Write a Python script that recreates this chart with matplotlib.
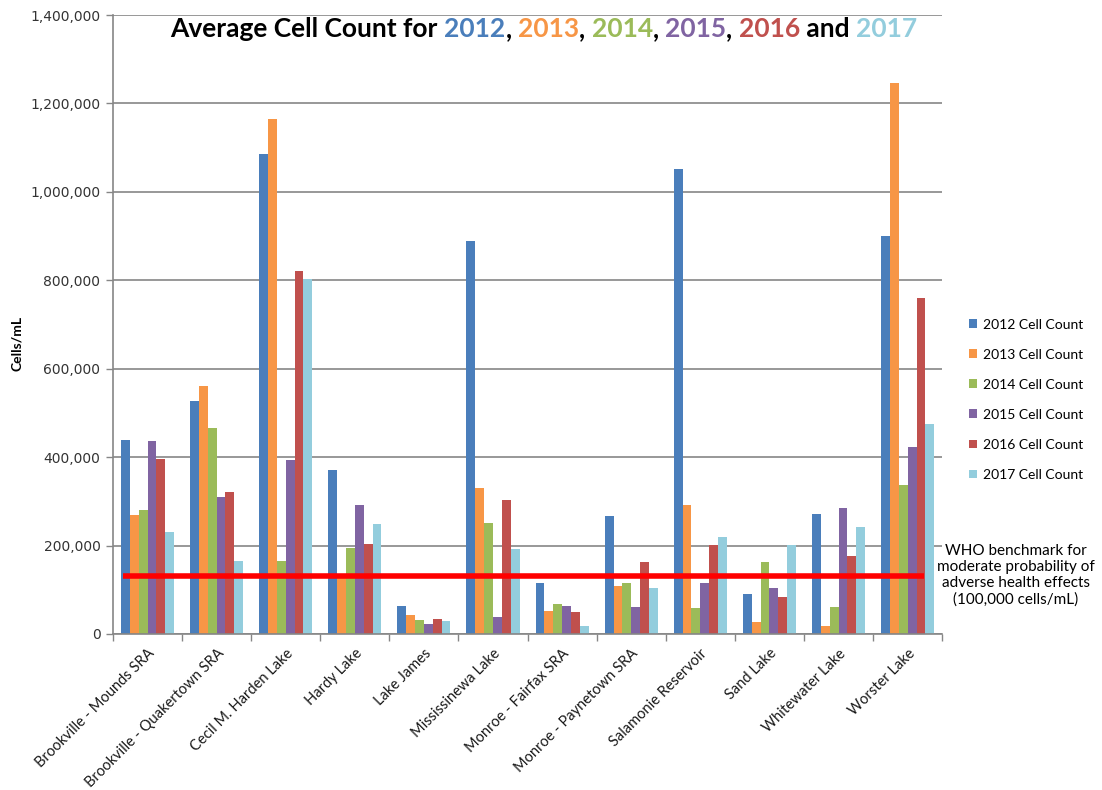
import numpy as np
import matplotlib
matplotlib.use('Agg')
import matplotlib.pyplot as plt
from matplotlib.ticker import FuncFormatter

lakes = ['Brookville - Mounds SRA', 'Brookville - Quakertown SRA', 'Cecil M. Harden Lake',
         'Hardy Lake', 'Lake James', 'Mississinewa Lake', 'Monroe - Fairfax SRA',
         'Monroe - Paynetown SRA', 'Salamonie Reservoir', 'Sand Lake', 'Whitewater Lake',
         'Worster Lake']

years = ['2012', '2013', '2014', '2015', '2016', '2017']
colors = ['#4A7EBB', '#F79646', '#9BBB59', '#8064A2', '#C0504D', '#93CDDD']

c2012 = [439000, 527000, 1085000, 370000, 64000, 889000, 116000, 266000, 1051000, 90000, 272000, 900000]
c2013 = [269000, 562000, 1165000, 128000, 42000, 330000, 51000, 109000, 292000, 26000, 19000, 1247000]
c2014 = [281000, 466000, 166000, 194000, 32000, 252000, 68000, 116000, 58000, 162000, 60000, 338000]
c2015 = [436000, 310000, 393000, 292000, 22000, 38000, 64000, 60000, 116000, 105000, 285000, 422000]
c2016 = [396000, 321000, 821000, 203000, 35000, 303000, 49000, 162000, 201000, 83000, 177000, 760000]
c2017 = [230000, 166000, 804000, 249000, 29000, 192000, 19000, 105000, 219000, 202000, 243000, 474000]
series = [c2012, c2013, c2014, c2015, c2016, c2017]

who_level = 130000
who_text = 'WHO benchmark for\nmoderate probability of\nadverse health effects\n(100,000 cells/mL)'

txt_font = 'Lato'
axis_gray = '#868686'

fig = plt.figure(figsize=(11.02, 7.90), dpi=100)
ax = fig.add_axes([0.1025, 0.1975, 0.7525, 0.7835])

x = np.arange(len(lakes))
w = 0.128
for i, (yr, vals) in enumerate(zip(years, series)):
    ax.bar(x - 2.5 * w + i * w, vals, width=w, color=colors[i],
           label=yr + ' Cell Count', zorder=2)

# WHO benchmark line
ax.plot([-0.36, len(lakes) - 1 + 0.24], [who_level, who_level], color='#FF0000',
        lw=4, solid_capstyle='butt', zorder=3)

ax.set_xlim(-0.5, len(lakes) - 0.5)
ax.set_ylim(0, 1400000)
ax.set_yticks(np.arange(0, 1400001, 200000))
ax.yaxis.set_major_formatter(FuncFormatter(lambda v, p: '{:,.0f}'.format(v)))
ax.grid(axis='y', color=axis_gray, lw=1.2, zorder=0)
ax.set_axisbelow(True)

ax.set_xticks(x)
ax.set_xticklabels(lakes, rotation=45, ha='right', va='top', rotation_mode='anchor',
                   fontsize=10.5, family=txt_font, color='#1a1a1a')
ax.set_xticks(np.arange(-0.5, len(lakes), 1), minor=True)
ax.tick_params(axis='x', which='major', length=0, pad=9)
ax.tick_params(axis='x', which='minor', length=5, color=axis_gray, width=1)
ax.tick_params(axis='y', length=5, color=axis_gray, width=1, labelsize=10,
               labelcolor='#333333', pad=4)

for s in ['right', 'top']:
    ax.spines[s].set_visible(False)
for s in ['left', 'bottom']:
    ax.spines[s].set_color(axis_gray)
    ax.spines[s].set_linewidth(1.2)

ax.set_ylabel('Cells/mL', fontsize=10, fontweight='bold', family=txt_font)
ax.yaxis.set_label_coords(-0.108, 0.47)

# multicoloured title
parts = [('Average Cell Count for ', 'black'), ('2012', colors[0]), (', ', 'black'),
         ('2013', colors[1]), (', ', 'black'), ('2014', colors[2]), (', ', 'black'),
         ('2015', colors[3]), (', ', 'black'), ('2016', colors[4]), (' and ', 'black'),
         ('2017', colors[5])]
fig.canvas.draw()
r = fig.canvas.get_renderer()
tmp = []
total = 0
for s, c in parts:
    t = fig.text(0, 0, s, fontsize=19, fontweight='bold', family=txt_font, color=c)
    bb = t.get_window_extent(renderer=r)
    tmp.append((t, bb.width))
    total += bb.width
x0 = (544 - total / 2) / 1102
for t, wd in tmp:
    t.set_position((x0, 1 - 37 / 790))
    x0 += wd / 1102

leg = fig.legend(loc='center left', bbox_to_anchor=(0.868, 0.494), frameon=False,
                 prop={'family': txt_font, 'size': 10}, handlelength=0.6, handleheight=0.6,
                 handletextpad=0.4, labelspacing=1.3)

fig.text(0.922, 0.272, who_text, ha='center', va='center', fontsize=11,
         family=txt_font, linespacing=1.2)

fig.savefig('out.png', dpi=100)
